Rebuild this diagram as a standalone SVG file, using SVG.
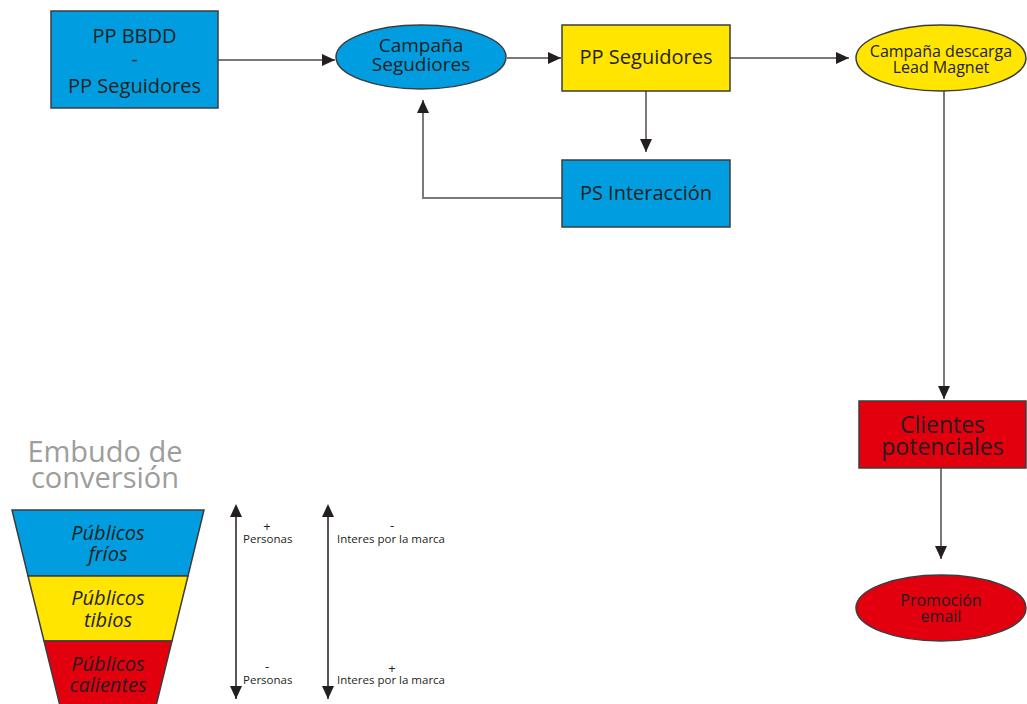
<svg xmlns="http://www.w3.org/2000/svg" width="1027" height="704" viewBox="0 0 1027 704">
<style>
.box{stroke:#3c3c3c;stroke-width:1.5}
.blue{fill:#009ee0}
.yellow{fill:#ffe500}
.red{fill:#e2000f}
.t{font-family:"Open Sans","Noto Sans",sans-serif;fill:#231f20;text-anchor:middle}
.c{fill:none;stroke:#7d7775;stroke-width:2}
.ax{fill:none;stroke:#5a5452;stroke-width:2}
.s{font-family:"Open Sans","Noto Sans",sans-serif;fill:#231f20;font-size:11.5px}
.pm{font-family:"Open Sans","Noto Sans",sans-serif;fill:#231f20;font-size:13px;text-anchor:middle}
.it{font-style:italic;font-size:20px}
</style>
<defs>
<marker id="ah" markerUnits="userSpaceOnUse" markerWidth="14" markerHeight="12" refX="13" refY="6" orient="auto">
<path d="M0,0 L13,6 L0,12 Z" fill="#231f20"/>
</marker>
<marker id="as" markerUnits="userSpaceOnUse" markerWidth="14" markerHeight="12" refX="1" refY="6" orient="auto-start-reverse">
<path d="M0,0 L13,6 L0,12 Z" fill="#231f20"/>
</marker>
</defs>
<g id="connectors">
<line class="c" x1="218" y1="60" x2="335" y2="60" marker-end="url(#ah)"/>
<line class="c" x1="507" y1="58" x2="561" y2="58" marker-end="url(#ah)"/>
<line class="c" x1="646" y1="91" x2="646" y2="152" marker-end="url(#ah)"/>
<polyline class="c" points="562,198 423,198 423,100" marker-end="url(#ah)"/>
<line class="c" x1="730" y1="58" x2="849" y2="58" marker-end="url(#ah)"/>
<line class="c" x1="944" y1="91" x2="944" y2="399" marker-end="url(#ah)"/>
<line class="c" x1="941" y1="468" x2="941" y2="559" marker-end="url(#ah)"/>
</g>
<g id="pp-bbdd">
<rect class="box blue" x="51" y="11" width="167" height="97"/>
<text class="t" font-size="20" x="134.5" y="43">PP BBDD</text>
<text class="t" font-size="20" x="134.5" y="66">-</text>
<text class="t" font-size="20" x="134.5" y="93">PP Seguidores</text>
</g>
<g id="campana-seguidores">
<ellipse class="box blue" cx="421" cy="57" rx="85" ry="32"/>
<text class="t" font-size="19" x="421" y="52">Campaña</text>
<text class="t" font-size="19" x="421" y="71">Segudiores</text>
</g>
<g id="pp-seguidores">
<rect class="box yellow" x="562" y="25" width="168" height="66"/>
<text class="t" font-size="20" x="646" y="64">PP Seguidores</text>
</g>
<g id="ps-interaccion">
<rect class="box blue" x="562" y="160" width="168" height="67"/>
<text class="t" font-size="20" x="646" y="200">PS Interacción</text>
</g>
<g id="campana-descarga">
<ellipse class="box yellow" cx="941" cy="58" rx="85" ry="33"/>
<text class="t" font-size="16" x="941" y="57">Campaña descarga</text>
<text class="t" font-size="16" x="941" y="73">Lead Magnet</text>
</g>
<g id="clientes-potenciales">
<rect class="box red" x="859" y="401" width="167" height="67"/>
<text class="t" font-size="23" x="942.5" y="433">Clientes</text>
<text class="t" font-size="23" x="942.5" y="455">potenciales</text>
</g>
<g id="promocion-email">
<ellipse class="box red" cx="941" cy="608" rx="85" ry="33"/>
<text class="t" font-size="16" x="941" y="606">Promoción</text>
<text class="t" font-size="16" x="941" y="622">email</text>
</g>
<g id="embudo">
<text class="t" font-size="29" style="fill:#9d9d9c" x="105" y="462">Embudo de</text>
<text class="t" font-size="29" style="fill:#9d9d9c" x="105" y="488">conversión</text>
<polygon class="box blue" points="12,510 204,510 188,576 28,576"/>
<polygon class="box yellow" points="28,576 188,576 172,641 44,641"/>
<polygon class="box red" points="44,641 172,641 156,706 60,706"/>
<text class="t it" x="108" y="540">Públicos</text>
<text class="t it" x="108" y="561">fríos</text>
<text class="t it" x="108" y="605">Públicos</text>
<text class="t it" x="108" y="627">tibios</text>
<text class="t it" x="108" y="671">Públicos</text>
<text class="t it" x="108" y="692">calientes</text>
</g>
<g id="escalas">
<line class="ax" x1="236" y1="516" x2="236" y2="699" marker-start="url(#as)" marker-end="url(#ah)"/>
<line class="ax" x1="328" y1="516" x2="328" y2="699" marker-start="url(#as)" marker-end="url(#ah)"/>
<text class="pm" x="267" y="531">+</text>
<text class="s" x="243" y="543">Personas</text>
<text class="pm" x="392" y="530">-</text>
<text class="s" x="337" y="543">Interes por la marca</text>
<text class="pm" x="267" y="671">-</text>
<text class="s" x="243" y="684">Personas</text>
<text class="pm" x="392" y="673">+</text>
<text class="s" x="337" y="684">Interes por la marca</text>
</g>
</svg>
